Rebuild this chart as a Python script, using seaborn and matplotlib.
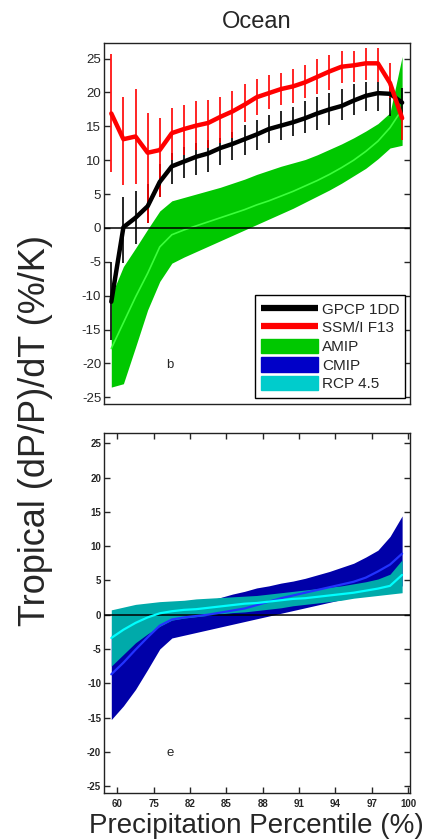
import numpy as np
import matplotlib
matplotlib.use("Agg")
import matplotlib.pyplot as plt
import seaborn as sns
from matplotlib.lines import Line2D
from matplotlib.patches import Patch

# ---------------- data ----------------
tick_labels = ['60', '75', '82', '85', '88', '91', '94', '97', '100']

gpcp_mean = [-10.9, 0.1, 1.5, 3.2, 6.8, 9.1, 9.8, 10.5, 11.0, 11.8, 12.4, 13.1, 13.8,
             14.6, 15.1, 15.6, 16.2, 16.9, 17.5, 18.0, 18.8, 19.5, 19.9, 19.8, 18.5]
gpcp_lo = [-16.6, -5.2, -2.3, 0.7, 4.6, 6.5, 7.4, 7.8, 8.3, 9.3, 10.1, 10.8, 11.5,
           12.5, 13.0, 13.5, 14.0, 14.5, 15.2, 16.0, 16.7, 17.2, 17.2, 16.5, 16.4]
gpcp_hi = [-5.0, 4.5, 5.5, 6.5, 9.5, 11.0, 12.0, 12.5, 13.0, 13.3, 14.2, 15.2, 16.0,
           16.7, 17.2, 17.9, 18.7, 19.4, 19.9, 20.5, 21.2, 21.5, 21.6, 21.6, 20.7]

ssmi_mean = [16.9, 13.1, 13.5, 11.1, 11.5, 14.0, 14.6, 15.1, 15.5, 16.4, 17.2, 18.2, 19.3,
             19.9, 20.5, 20.9, 21.5, 22.3, 23.1, 23.8, 24.0, 24.3, 24.3, 21.4, 16.2]
ssmi_lo = [8.2, 6.4, 6.5, 0.7, 4.6, 10.1, 10.8, 11.5, 11.8, 12.5, 13.3, 15.7, 16.7,
           17.5, 18.2, 18.4, 19.2, 19.7, 20.4, 21.4, 21.6, 21.9, 21.6, 19.2, 13.0]
ssmi_hi = [25.7, 19.4, 20.5, 17.0, 16.2, 17.7, 18.2, 18.7, 18.9, 19.4, 20.2, 21.2, 22.0,
           22.6, 22.9, 23.5, 24.1, 25.0, 25.6, 26.1, 26.1, 26.6, 26.6, 24.4, 16.7]

amip_hi = [-10.0, -5.7, -3.0, -0.2, 2.5, 4.0, 4.5, 5.0, 5.5, 6.0, 6.6, 7.2, 7.9,
           8.5, 9.1, 9.6, 10.1, 10.8, 11.6, 12.4, 13.3, 14.3, 15.4, 17.0, 25.3]
amip_lo = [-23.5, -23.0, -17.6, -12.1, -7.9, -5.2, -4.3, -3.5, -2.7, -1.9, -1.1, -0.3, 0.5,
           1.3, 2.1, 2.9, 3.8, 4.7, 5.6, 6.6, 7.7, 8.8, 10.2, 11.8, 12.2]
amip_mean = [-17.8, -14.0, -10.2, -6.7, -2.8, -1.0, -0.3, 0.3, 0.9, 1.5, 2.1, 2.7, 3.4,
             4.0, 4.7, 5.4, 6.2, 7.0, 7.9, 8.9, 10.0, 11.3, 12.8, 14.8, 17.5]

cmip_hi = [-3.0, -2.0, -1.0, 0.0, 0.6, 1.0, 1.3, 1.6, 2.0, 2.5, 3.0, 3.4, 3.9,
           4.2, 4.6, 4.9, 5.3, 5.8, 6.3, 6.9, 7.5, 8.4, 9.4, 11.4, 14.4]
cmip_lo = [-15.3, -13.3, -10.9, -8.0, -5.0, -3.4, -3.0, -2.6, -2.2, -1.8, -1.4, -1.0, -0.6,
           -0.2, 0.2, 0.6, 1.0, 1.4, 1.8, 2.2, 2.6, 3.0, 3.4, 3.8, 4.2]
cmip_mean = [-8.7, -7.0, -5.1, -3.3, -1.6, -0.7, -0.4, -0.2, 0.0, 0.3, 0.6, 0.9, 1.4,
             1.9, 2.4, 2.8, 3.2, 3.6, 4.0, 4.4, 4.8, 5.4, 6.3, 7.3, 8.9]

rcp_hi = [0.7, 1.1, 1.5, 1.7, 1.9, 2.0, 2.1, 2.3, 2.4, 2.5, 2.6, 2.7, 2.8,
          3.0, 3.2, 3.4, 3.6, 3.8, 4.0, 4.2, 4.5, 4.8, 5.2, 5.9, 8.0]
rcp_lo = [-7.5, -5.8, -4.1, -2.8, -1.7, -0.8, -0.5, -0.3, -0.1, 0.1, 0.3, 0.4, 0.6,
          0.8, 1.0, 1.3, 1.5, 1.7, 1.9, 2.1, 2.4, 2.6, 2.8, 3.0, 3.2]
rcp_mean = [-3.4, -2.2, -1.2, -0.4, 0.2, 0.5, 0.7, 0.8, 1.0, 1.2, 1.4, 1.6, 1.7,
            1.9, 2.1, 2.3, 2.4, 2.6, 2.8, 3.0, 3.2, 3.5, 3.8, 4.2, 5.8]

# ---------------- style ----------------
sns.set_style("ticks")
plt.rcParams['font.family'] = ['Liberation Sans', 'DejaVu Sans']
plt.rcParams['axes.unicode_minus'] = False

GREEN = '#00C800'
LIME = '#3CFF3C'
DBLUE = '#0000A8'
BLUE = '#2233FF'
TEAL = '#00AAAA'
CYAN = '#00FFFF'

idx = np.arange(len(gpcp_mean))
tick_pos = np.arange(len(tick_labels)) * 3 + 0.5
yticks = np.arange(-25, 26, 5)

fig = plt.figure(figsize=(4.3, 8.4), dpi=100)
ax1 = fig.add_axes([0.2419, 0.519, 0.7116, 0.4298])
ax2 = fig.add_axes([0.2419, 0.056, 0.7116, 0.4286])

# ---- top panel ----
ax1.fill_between(idx, amip_lo, amip_hi, color=GREEN, lw=0, zorder=1)
sns.lineplot(x=idx, y=amip_mean, ax=ax1, color=LIME, lw=1.2, zorder=2)
ax1.axhline(0, color='k', lw=1.1, zorder=3)
ax1.vlines(idx, gpcp_lo, gpcp_hi, color='k', lw=1.2, zorder=4)
ax1.vlines(idx, ssmi_lo, ssmi_hi, color='#FF0000', lw=1.2, zorder=4)
sns.lineplot(x=idx, y=gpcp_mean, ax=ax1, color='k', lw=3.2, zorder=5)
sns.lineplot(x=idx, y=ssmi_mean, ax=ax1, color='#FF0000', lw=3.2, zorder=6)
ax1.set_ylim(-26, 27.3)
ax1.text(0.216, 0.108, 'b', transform=ax1.transAxes, fontsize=9.5,
         ha='center', va='center')

handles = [Line2D([], [], color='k', lw=4.5, solid_capstyle='butt'),
           Line2D([], [], color='#FF0000', lw=4.5, solid_capstyle='butt'),
           Patch(facecolor=GREEN, edgecolor=GREEN),
           Patch(facecolor='#0000C8', edgecolor='#0000C8'),
           Patch(facecolor='#00CCCC', edgecolor='#00CCCC')]
labels = ['GPCP 1DD', 'SSM/I F13', 'AMIP', 'CMIP', 'RCP 4.5']
leg = ax1.legend(handles, labels, loc='lower right', bbox_to_anchor=(0.985, 0.018),
                 fontsize=11, frameon=True, fancybox=False, framealpha=1,
                 edgecolor='k', handlelength=3.7, handleheight=1.05,
                 labelspacing=0.22, handletextpad=0.25, borderpad=0.4,
                 borderaxespad=0)
leg.get_frame().set_linewidth(1.0)

# ---- bottom panel ----
ax2.fill_between(idx, cmip_lo, cmip_hi, color=DBLUE, lw=0, zorder=1)
ax2.fill_between(idx, rcp_lo, rcp_hi, color=TEAL, lw=0, zorder=2)
ax2.axhline(0, color='k', lw=1.1, zorder=3)
sns.lineplot(x=idx, y=cmip_mean, ax=ax2, color=BLUE, lw=1.6, zorder=4)
sns.lineplot(x=idx, y=rcp_mean, ax=ax2, color=CYAN, lw=1.6, zorder=5)
ax2.set_ylim(-26, 26.5)
ax2.text(0.216, 0.111, 'e', transform=ax2.transAxes, fontsize=9.5,
         ha='center', va='center')

for ax, lsize in ((ax1, 9.5), (ax2, 7)):
    ax.set_xlim(-0.6, 24.65)
    ax.set_yticks(yticks)
    ax.set_yticklabels([str(v) for v in yticks], fontsize=lsize)
    ax.set_xticks(tick_pos)
    ax.set_xticklabels(tick_labels, fontsize=7)
    ax.tick_params(direction='in', length=4, width=1.0, left=True, right=True,
                   pad=2)
    for sp in ax.spines.values():
        sp.set_visible(True)
        sp.set_linewidth(1.0)
        sp.set_color('#222222')
    ax.set_xlabel('')
    ax.set_ylabel('')

ax1.tick_params(axis='x', bottom=False, top=False, labelbottom=False)
ax2.tick_params(axis='both', labelsize=7)
ax2.tick_params(axis='x', bottom=True, top=True, labelbottom=True, pad=4)
for t in ax2.get_xticklabels() + ax2.get_yticklabels():
    t.set_fontweight('bold')

fig.text(257 / 430, 1 - 22 / 840, 'Ocean', ha='center', va='center', fontsize=17)
fig.text(256.5 / 430, 1 - 826 / 840, 'Precipitation Percentile (%)', ha='center',
         va='center', fontsize=20)
fig.text(36 / 430, 1 - 431 / 840, 'Tropical (dP/P)/dT (%/K)', ha='center',
         va='center', rotation=90, fontsize=26)

fig.savefig('out.png', dpi=100)
